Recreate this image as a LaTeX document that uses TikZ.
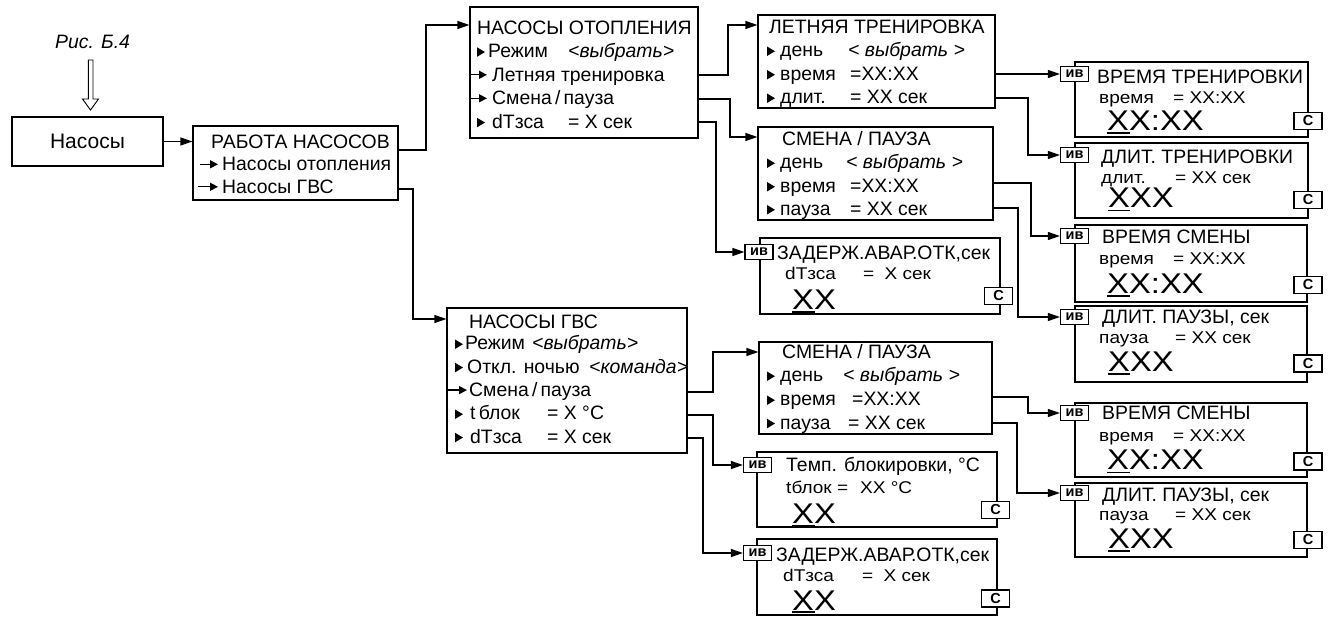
\documentclass[tikz,border=0pt]{standalone}
\usepackage{fontspec}
\setmainfont{Liberation Sans}
\newfontfamily\stf[FakeStretch=1.12]{Liberation Sans}
\newfontfamily\bgf[FakeStretch=1.15]{Liberation Sans}
\usetikzlibrary{arrows.meta}
\newcommand\fntm{\fontsize{19.4}{23}\selectfont}
\newcommand\fnts{\stf\fontsize{17}{20}\selectfont}
\newcommand\fntb{\bgf\fontsize{28.5}{32}\selectfont}
\newcommand\fntv{\bfseries\fontsize{14.5}{16}\selectfont}
\tikzset{
  txt/.style={anchor=base west, inner sep=0pt, font=\fntm},
  stxt/.style={txt, font=\fnts},
  btxt/.style={txt, font=\fntb},
  box/.style={draw, line width=1.2pt, inner sep=0pt},
  tag/.style={draw, line width=1.2pt, fill=white, inner sep=0pt, minimum width=28pt, minimum height=15pt, font=\fntv},
  ctag/.style={tag, minimum height=17pt},
  conn/.style={line width=1.2pt, -{Triangle[length=12pt,width=8pt]}},
  marker/.style={line width=1.3pt, -{Triangle[length=8pt,width=8pt]}}
}
\newcount\tn
\newcommand\tx[4][txt]{\global\advance\tn by 1 \node[#1] (t\the\tn) at (#2,#3) {#4};}
\newcommand\tri[2]{\fill (#1,#2-10.5) -- (#1,#2-1) -- (#1+8,#2-5.75) -- cycle;}
\newcommand\arw[3]{\draw[marker] (#1,#3-6.5) -- (#2,#3-6.5);}
\newcommand\undl[3]{\draw[line width=1.3pt] (#1,#3) -- (#2,#3);}
\newcommand\bxx[5]{\node[box, minimum width={#4pt-#2pt}, minimum height={#5pt-#3pt}] (#1) at ({(#2+#4)/2},{(#3+#5)/2}) {};}
\begin{document}
\begin{tikzpicture}[x=1pt,y=-1pt]
\useasboundingbox (0,0) rectangle (1334,617);
% caption and start
\node[txt, font=\fntm\itshape] (cap) at (55,48.3) {Рис. Б.4};
\node[draw, line width=2.2pt, minimum width=151pt, minimum height=49pt, inner sep=0pt, font=\fontsize{21}{24}\selectfont] (nas) at (87.5,141.5) {Насосы};
\draw[line width=0.9pt, fill=white] (88.3,60) -- (88.3,99) -- (82.5,99) -- (90.5,110) -- (98.5,99) -- (93,99) -- (93,60) -- cycle;
% boxes
\bxx{rab}{193}{126}{398}{200}
\bxx{ot}{470}{7}{698}{138}
\bxx{let}{758}{15}{995}{108}
\bxx{smu}{758}{127}{993}{220}
\bxx{zdu}{760}{238}{1000}{314}
\bxx{vt}{1075}{62}{1308}{137}
\bxx{dt}{1075}{143}{1308}{218}
\bxx{vsu}{1075}{225}{1307}{302}
\bxx{dpu}{1075}{306}{1307}{382}
\bxx{gvs}{447}{308}{687}{453}
\bxx{sml}{759}{342}{992}{434}
\bxx{tmp}{757}{452}{997}{527}
\bxx{zdl}{757}{539}{997}{615}
\bxx{vsl}{1075}{403}{1307}{477}
\bxx{dpl}{1075}{483}{1307}{557}
% tags
\node[tag] (ivzu) at (759,252) {ив};
\node[tag] (ivvt) at (1074.5,74) {ив};
\node[tag] (ivdt) at (1074.5,155) {ив};
\node[tag] (ivvsu) at (1074.5,236) {ив};
\node[tag] (ivdpu) at (1074.5,317) {ив};
\node[tag] (ivvsl) at (1074.5,413) {ив};
\node[tag] (ivdpl) at (1074.5,493) {ив};
\node[tag] (ivtmp) at (757.5,465) {ив};
\node[tag] (ivzl) at (757.5,553) {ив};
\node[ctag] (czu) at (998.5,296) {С};
\node[ctag] (cvt) at (1308,121) {С};
\node[ctag] (cdt) at (1308,200) {С};
\node[ctag] (cvsu) at (1308,285) {С};
\node[ctag] (cdpu) at (1308,363.5) {С};
\node[ctag] (cvsl) at (1308,461.5) {С};
\node[ctag] (cdpl) at (1308,540) {С};
\node[ctag] (ctmp) at (995.5,510) {С};
\node[ctag] (czl) at (995.5,598.5) {С};
% connectors
\draw[conn] (nas.east) -- (rab.west |- nas.east);
\draw[conn] (rab.east |- 0,150) -| (426,25) -- (ot.west |- 0,25);
\draw[conn] (rab.east |- 0,189) -| (413,319) -- (gvs.west |- 0,319);
\draw[conn] (ot.east |- 0,75) -| (728,25) -- (let.west |- 0,25);
\draw[conn] (ot.east |- 0,99) -| (730,137) -- (smu.west |- 0,137);
\draw[conn] (ot.east |- 0,122) -| (716,252) -- (ivzu.west);
\draw[conn] (let.east |- 0,74) -- (ivvt.west);
\draw[conn] (let.east |- 0,98) -| (1028,155) -- (ivdt.west);
\draw[conn] (smu.east |- 0,183) -| (1031,236) -- (ivvsu.west);
\draw[conn] (smu.east |- 0,208) -| (1018,317) -- (ivdpu.west);
\draw[conn] (gvs.east |- 0,392) -| (713,352) -- (sml.west |- 0,352);
\draw[conn] (gvs.east |- 0,415) -| (713,465) -- (ivtmp.west);
\draw[conn] (gvs.east |- 0,438) -| (703,553) -- (ivzl.west);
\draw[conn] (sml.east |- 0,397) -| (1028,413) -- (ivvsl.west);
\draw[conn] (sml.east |- 0,423) -| (1017,493) -- (ivdpl.west);
% rab
\tx{211}{148.3}{РАБОТА НАСОСОВ}
\arw{200}{218}{170.8} \tx{222}{170.8}{Насосы отопления}
\arw{198}{218}{193.3} \tx{222}{193.3}{Насосы ГВС}
% ot
\tx{477}{34.3}{НАСОСЫ ОТОПЛЕНИЯ}
\tri{477}{57.8} \tx{488}{57.8}{Режим} \tx{568}{57.8}{\textit{<выбрать>}}
\arw{471}{487}{81.3} \tx{492}{81.3}{Летняя тренировка}
\arw{471}{487}{104.8} \tx{492}{104.8}{Смена\,/\,пауза}
\tri{477}{128.3} \tx{492}{128.3}{dTзса} \tx{568}{128.3}{= X сек}
% let
\tx{769}{33.5}{ЛЕТНЯЯ ТРЕНИРОВКА}
\tri{767}{57} \tx{780}{57}{день} \tx{848}{57}{\textit{< выбрать >}}
\tri{767}{80.5} \tx{780}{80.5}{время} \tx{850}{80.5}{=XX:XX}
\tri{767}{104} \tx{780}{104}{длит.} \tx{850}{104}{= XX сек}
% smu
\tx{782}{146}{СМЕНА / ПАУЗА}
\tri{767}{169} \tx{780}{169}{день} \tx{846}{169}{\textit{< выбрать >}}
\tri{767}{192.5} \tx{780}{192.5}{время} \tx{850}{192.5}{=XX:XX}
\tri{767}{215.5} \tx{780}{215.5}{пауза} \tx{850}{215.5}{= XX сек}
% zdu
\tx{777}{259.3}{ЗАДЕРЖ.АВАР.ОТК,сек}
\tx[stxt]{785}{280}{dTзса} \tx[stxt]{863}{280}{=\hspace{0.6em}X сек}
\tx[btxt]{792}{310}{XX} \undl{792}{815}{312}
% vt
\tx{1097}{83.3}{ВРЕМЯ ТРЕНИРОВКИ}
\tx[stxt]{1099}{103.3}{время} \tx[stxt]{1173}{103.3}{= XX:XX}
\tx[btxt]{1107}{130.7}{XX:XX} \undl{1107}{1130}{133}
% dt
\tx{1101}{163.3}{ДЛИТ. ТРЕНИРОВКИ}
\tx[stxt]{1101}{183.5}{длит.} \tx[stxt]{1175}{183.5}{= XX сек}
\tx[btxt]{1108}{208}{XXX} \undl{1108}{1130}{210.5}
% vsu
\tx{1102}{243.3}{ВРЕМЯ СМЕНЫ}
\tx[stxt]{1099}{265}{время} \tx[stxt]{1173}{265}{= XX:XX}
\tx[btxt]{1107}{293.3}{XX:XX} \undl{1107}{1130}{296}
% dpu
\tx{1102}{323.3}{ДЛИТ. ПАУЗЫ, сек}
\tx[stxt]{1099}{344}{пауза} \tx[stxt]{1175}{344}{= XX сек}
\tx[btxt]{1108}{371.7}{XXX} \undl{1108}{1130}{374}
% vsl
\tx{1102}{420}{ВРЕМЯ СМЕНЫ}
\tx[stxt]{1099}{441.7}{время} \tx[stxt]{1173}{441.7}{= XX:XX}
\tx[btxt]{1107}{470}{XX:XX} \undl{1107}{1130}{472.5}
% dpl
\tx{1102}{501.7}{ДЛИТ. ПАУЗЫ, сек}
\tx[stxt]{1099}{520}{пауза} \tx[stxt]{1175}{520}{= XX сек}
\tx[btxt]{1108}{548.3}{XXX} \undl{1108}{1130}{551}
% gvs
\tx{469}{328.5}{НАСОСЫ ГВС}
\tri{455}{350} \tx{465}{350}{Режим} \tx{532}{350}{\textit{<выбрать>}}
\tri{455}{373.3} \tx{467}{373.3}{Откл. ночью} \tx{589}{373.3}{\textit{<команда>}}
\arw{448}{467}{396.6} \tx{469}{396.6}{Смена\,/\,пауза}
\tri{455}{420} \tx{470}{420}{t\,блок} \tx{547}{420}{= X °C}
\tri{455}{443.3} \tx{470}{443.3}{dTзса} \tx{547}{443.3}{= X сек}
% sml
\tx{782}{358.3}{СМЕНА / ПАУЗА}
\tri{767}{382} \tx{780}{382}{день} \tx{843}{382}{\textit{< выбрать >}}
\tri{767}{406} \tx{780}{406}{время} \tx{852}{406}{=XX:XX}
\tri{767}{429.3} \tx{780}{429.3}{пауза} \tx{848}{429.3}{= XX сек}
% tmp
\tx{786}{471.7}{Темп. блокировки, °C}
\tx[stxt]{786}{493.3}{tблок =} \tx[stxt]{860}{493.3}{XX °C}
\tx[btxt]{792}{523.3}{XX} \undl{792}{815}{525.5}
% zdl
\tx{776}{561.7}{ЗАДЕРЖ.АВАР.ОТК,сек}
\tx[stxt]{783}{581.7}{dTзса} \tx[stxt]{862}{581.7}{=\hspace{0.6em}X сек}
\tx[btxt]{792}{610}{XX} \undl{792}{815}{612}
\end{tikzpicture}
\end{document}
